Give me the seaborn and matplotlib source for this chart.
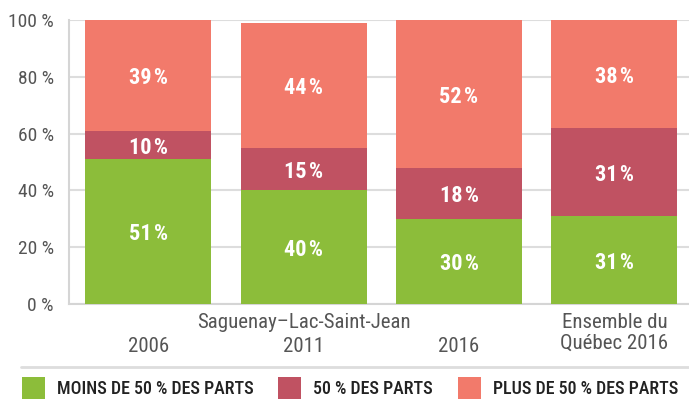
import matplotlib
matplotlib.use("Agg")
import matplotlib.pyplot as plt
import matplotlib.font_manager as fm
from matplotlib.lines import Line2D
import seaborn as sns
import pandas as pd

categories = ["2006", "2011", "2016", "Québec 2016"]
moins = [51, 40, 30, 31]
cinquante = [10, 15, 18, 31]
plus = [39, 44, 52, 38]
series_names = ["MOINS DE 50 % DES PARTS", "50 % DES PARTS", "PLUS DE 50 % DES PARTS"]
yticks = [0, 20, 40, 60, 80, 100]

colors = ["#8cbd3a", "#c05262", "#f27a6b"]

sns.set_theme(style="white")
fam = "DejaVu Sans"
for cand in ["Roboto Condensed", "Liberation Sans Narrow", "Roboto"]:
    try:
        fm.findfont(cand, fallback_to_default=False)
        fam = cand
        break
    except Exception:
        pass
plt.rcParams["font.family"] = [fam, "DejaVu Sans"]

fig = plt.figure(figsize=(6.89, 4.0), dpi=100)
ax = fig.add_axes([69/689, 1-304/400, 1-69/689, 284/400])

df = pd.DataFrame({"cat": categories, "moins": moins, "cinq": cinquante, "plus": plus})
df["c1"] = df["moins"]
df["c2"] = df["moins"] + df["cinq"]
df["c3"] = df["moins"] + df["cinq"] + df["plus"]

width = 126/155.5
for col, c in zip(["c3", "c2", "c1"], [colors[2], colors[1], colors[0]]):
    sns.barplot(data=df, x="cat", y=col, color=c, saturation=1, width=width,
                ax=ax, linewidth=0, zorder=3, errorbar=None)

for i in range(len(categories)):
    segs = [(0, df["c1"][i], moins[i]), (df["c1"][i], df["c2"][i], cinquante[i]),
            (df["c2"][i], df["c3"][i], plus[i])]
    for lo, hi, v in segs:
        ax.text(i, (lo + hi) / 2 - 1, f"{v}\u200a%", ha="center", va="center",
                color="white", fontsize=16, fontweight="bold", zorder=5)

ax.set_ylim(0, 100)
ax.set_xlim(-0.51, 3.48)
ax.set_yticks(yticks)
ax.set_yticklabels([f"{t} %" for t in yticks], color="#555555", fontsize=14)
ax.yaxis.grid(True, color="#dddddd", linewidth=1.5, zorder=0)
ax.set_axisbelow(True)
for s in ["top", "right"]:
    ax.spines[s].set_visible(False)
ax.spines["left"].set_color("#d5d5d5")
ax.spines["bottom"].set_color("#d5d5d5")
ax.spines["left"].set_linewidth(1.5)
ax.spines["bottom"].set_linewidth(1.5)
ax.tick_params(axis="y", length=0, pad=11)
ax.set_xticks([0.5, 1.5, 2.5])
ax.set_xticklabels([])
ax.tick_params(axis="x", direction="in", length=6, color="#d5d5d5", width=1.2)
ax.set_xlabel("")
ax.set_ylabel("")

tc = "#555555"
fig.canvas.draw()
def fx(i):
    return ax.transData.transform((i, 0))[0] / fig.dpi / 6.89
fig.text(fx(1), 1-322/400, "Saguenay\u2013Lac-Saint-Jean", ha="center", va="center", fontsize=15, color=tc)
for i in range(3):
    fig.text(fx(i), 1-347/400, categories[i], ha="center", va="center", fontsize=15, color=tc)
fig.text(fx(3), 1-322/400, "Ensemble du", ha="center", va="center", fontsize=15, color=tc)
fig.text(fx(3), 1-343/400, "Québec 2016", ha="center", va="center", fontsize=15, color=tc)

fig.add_artist(Line2D([21/689, 1], [1-367/400, 1-367/400], color="#dddddd", linewidth=2,
                      transform=fig.transFigure))

lx = [22, 278, 458]
for x0, c, name in zip(lx, colors, series_names):
    fig.add_artist(plt.Rectangle((x0/689, 1-399/400), 23/689, 22/400, color=c,
                                 transform=fig.transFigure, linewidth=0))
    fig.text((x0+35)/689, 1-389/400, name, ha="left", va="center", fontsize=13,
             color="#222222", fontweight="medium")

fig.savefig("out.png", dpi=100)
